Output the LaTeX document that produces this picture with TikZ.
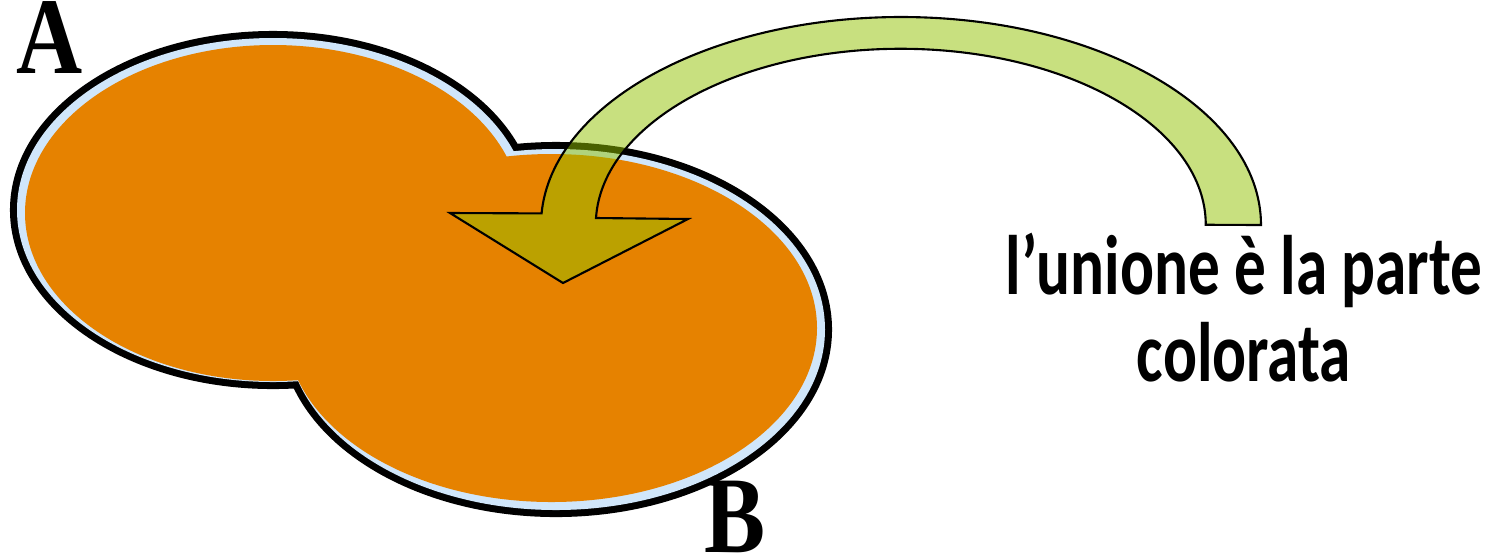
\documentclass[tikz,border=0pt]{standalone}
\usepackage{fontspec}
\usepackage{tikz}
\usetikzlibrary{calc}
\newfontfamily\setfont[FakeStretch=0.84]{Liberation Serif}
\newfontfamily\notefont[FakeStretch=0.75]{Carlito}
\definecolor{setFill}{HTML}{E68200}
\definecolor{setGlow}{HTML}{D0E6FA}
\definecolor{arrowFill}{HTML}{92C100}

\begin{document}
\begin{tikzpicture}[x=0.01cm, y=0.01cm]
        \useasboundingbox (0,0) rectangle (1497,556);
        % Outlines of A and B (double width, inner half hidden by the fill)
        \draw[line width=4pt] (273,346) ellipse [x radius=256, y radius=172];
        \draw[line width=4pt] (556,226.5) ellipse [x radius=269, y radius=180.5];
        \fill[setGlow] (273,346) ellipse [x radius=256, y radius=172];
        \fill[setGlow] (556,226.5) ellipse [x radius=269, y radius=180.5];
        % Union A+B (orange)
        \fill[setFill] (273,343) ellipse [x radius=248, y radius=168];
        \fill[setFill] (551.5,228) ellipse [x radius=265.5, y radius=174];
        % Curved arrow (half transparent)
        \draw[line width=0.6pt, fill=arrowFill, fill opacity=0.5]
          (1261,331) arc [start angle=0, end angle=176.8, x radius=360, y radius=208]
          -- (450,343) -- (563,273) -- (688,337)
          -- (596,338) arc [start angle=177.8, end angle=0, x radius=305, y radius=176]
          -- cycle;
        % Set names
        \node[inner sep=0pt, anchor=base, font=\setfont\fontsize{31}{36}\selectfont\bfseries] (nameA) at (49.5,483) {A};
        \node[inner sep=0pt, anchor=base, font=\setfont\fontsize{31}{36}\selectfont\bfseries] (nameB) at (735,4) {B};
        % Caption (tight lines)
        \node[inner sep=0pt, align=center, anchor=base,
              font=\notefont\fontsize{24}{29}\selectfont\bfseries] (caption) at (1244,175)
          {l’unione è la parte\\[-4.3pt]colorata};
      \end{tikzpicture}
\end{document}
